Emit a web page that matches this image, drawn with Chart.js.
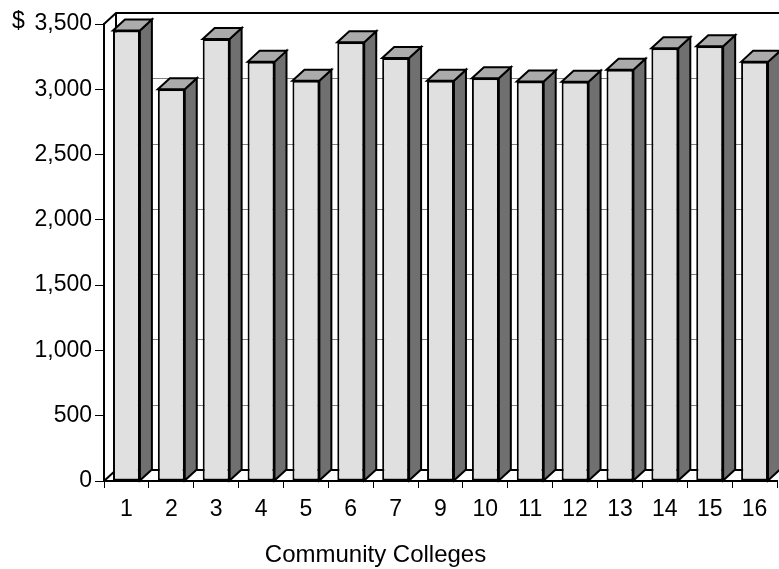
<!DOCTYPE html>
<html><head><meta charset="utf-8">
<style>html,body{margin:0;padding:0;background:#fff;}#wrap{width:779px;height:569px;position:relative;}</style>
<script src="https://cdn.jsdelivr.net/npm/chart.js@4/dist/chart.umd.min.js"></script>
</head><body><div id="wrap"><canvas id="c" width="779" height="569"></canvas></div>
<script>
const categories = ['1','2','3','4','5','6','7','9','10','11','12','13','14','15','16'];
const tuition = [3450,3000,3385,3210,3065,3360,3240,3065,3085,3060,3058,3150,3315,3330,3210];
const yTicks = [0,500,1000,1500,2000,2500,3000,3500];
const yAxisLabel = '$';
const xAxisTitle = 'Community Colleges';

const DX = 12, DY = 11;
const FONT = "'Liberation Sans', Arial, sans-serif";

const box3d = {
  id: 'box3d',
  beforeDatasetsDraw(chart) {
    const ctx = chart.ctx, a = chart.chartArea, y = chart.scales.y;
    const top = y.getPixelForValue(yTicks[yTicks.length-1]);
    const bot = y.getPixelForValue(yTicks[0]);
    ctx.save();
    ctx.strokeStyle = '#808080'; ctx.lineWidth = 1;
    yTicks.slice(1, -1).forEach(v => {
      const py = Math.round(y.getPixelForValue(v) - DY) + 0.5;
      ctx.beginPath(); ctx.moveTo(a.left + DX, py); ctx.lineTo(chart.width, py); ctx.stroke();
    });
    ctx.strokeStyle = '#000'; ctx.lineWidth = 2; ctx.lineJoin = 'miter';
    ctx.beginPath();
    ctx.moveTo(a.left, bot); ctx.lineTo(a.left + DX, bot - DY); ctx.lineTo(chart.width, bot - DY);
    ctx.moveTo(a.left + DX, bot - DY); ctx.lineTo(a.left + DX, top - DY);
    ctx.moveTo(a.left, top); ctx.lineTo(a.left + DX, top - DY); ctx.lineTo(chart.width, top - DY);
    ctx.stroke();
    const meta = chart.getDatasetMeta(0);
    meta.data.forEach(bar => {
      const p = bar.getProps(['x', 'y', 'base', 'width'], true);
      const l = p.x - p.width / 2, r = p.x + p.width / 2, ty = p.y, base = p.base;
      ctx.fillStyle = '#707070';
      ctx.beginPath(); ctx.moveTo(r, base); ctx.lineTo(r + DX, base - DY); ctx.lineTo(r + DX, ty - DY); ctx.lineTo(r, ty); ctx.closePath(); ctx.fill(); ctx.stroke();
      ctx.fillStyle = '#ababab';
      ctx.beginPath(); ctx.moveTo(l, ty); ctx.lineTo(l + DX, ty - DY); ctx.lineTo(r + DX, ty - DY); ctx.lineTo(r, ty); ctx.closePath(); ctx.fill(); ctx.stroke();
    });
    ctx.restore();
  },
  afterDraw(chart) {
    const ctx = chart.ctx;
    ctx.save();
    ctx.fillStyle = '#000';
    ctx.textBaseline = 'middle';
    ctx.font = '23px ' + FONT;
    ctx.textAlign = 'left';
    ctx.fillText(yAxisLabel, 12, 22);
    ctx.font = '24px ' + FONT;
    ctx.textAlign = 'center';
    ctx.fillText(xAxisTitle, 375.5, 555);
    ctx.restore();
  }
};

new Chart(document.getElementById('c'), {
  type: 'bar',
  data: {
    labels: categories,
    datasets: [{
      data: tuition,
      backgroundColor: '#e0e0e0',
      borderColor: '#000',
      borderWidth: 2,
      borderSkipped: false,
      barPercentage: 0.6,
      categoryPercentage: 1.0
    }]
  },
  options: {
    responsive: false,
    animation: false,
    devicePixelRatio: 1,
    layout: { padding: { top: 24, right: 2, left: 0, bottom: 0 } },
    plugins: { legend: { display: false }, tooltip: { enabled: false }, title: { display: false } },
    scales: {
      x: {
        grid: { display: true, drawOnChartArea: false, drawTicks: true, tickLength: 7, color: '#000', lineWidth: 1, offset: true },
        border: { display: true, color: '#000', width: 2 },
        ticks: { color: '#000', font: { family: FONT, size: 23 }, padding: 8, maxRotation: 0, autoSkip: false },
        afterFit(s) { s.height = 88; }
      },
      y: {
        min: 0, max: 3500,
        afterBuildTicks(s) { s.ticks = yTicks.map(v => ({ value: v })); },
        grid: { display: true, drawOnChartArea: false, drawTicks: true, tickLength: 9, color: '#000', lineWidth: 1 },
        border: { display: true, color: '#000', width: 2 },
        ticks: { color: '#000', font: { family: FONT, size: 23 }, padding: 3,
          callback: v => v.toLocaleString('en-US') },
        afterFit(s) { s.width = 104; }
      }
    }
  },
  plugins: [box3d]
});
</script>
</body></html>
